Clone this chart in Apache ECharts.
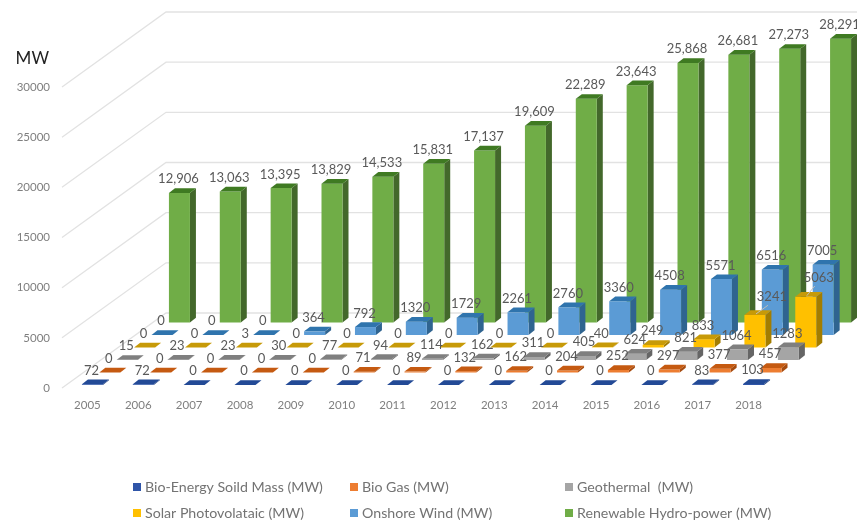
<!DOCTYPE html>
<html>
<head>
<meta charset="utf-8">
<style>html,body{margin:0;padding:0;background:#fff}#main{width:857px;height:521px}</style>
<script src="https://cdn.jsdelivr.net/npm/echarts@6/dist/echarts.min.js"></script>
</head>
<body>
<div id="main"></div>
<script>
// ---- data ----
const years = ['2005','2006','2007','2008','2009','2010','2011','2012','2013','2014','2015','2016','2017','2018'];
const yTicks = [0, 5000, 10000, 15000, 20000, 25000, 30000];
const bioMass = [72, 72, 0, 0, 0, 0, 0, 0, 0, 0, 0, 0, 83, 103];
const bioGas = [0, 0, 0, 0, 0, 71, 89, 132, 162, 204, 252, 297, 377, 457];
const geothermal = [15, 23, 23, 30, 77, 94, 114, 162, 311, 405, 624, 821, 1064, 1283];
const solar = [0, 0, 3, 0, 0, 0, 0, 0, 0, 40, 249, 833, 3241, 5063];
const wind = [0, 0, 0, 364, 792, 1320, 1729, 2261, 2760, 3360, 4508, 5571, 6516, 7005];
const hydro = [12906, 13063, 13395, 13829, 14533, 15831, 17137, 19609, 22289, 23643, 25868, 26681, 27273, 28291];

const names = ['Bio-Energy Soild Mass (MW)', 'Bio Gas (MW)', 'Geothermal  (MW)', 'Solar Photovolataic (MW)', 'Onshore Wind (MW)', 'Renewable Hydro-power (MW)'];
const rows = [bioMass, bioGas, geothermal, solar, wind, hydro];

// ---- styling ----
const faces = [
  {front:'#2f55a8', top:'#234a96', side:'#1c3b78'},
  {front:'#ed7d31', top:'#c55a11', side:'#a64b0f'},
  {front:'#a5a5a5', top:'#7f7f7f', side:'#656565'},
  {front:'#ffc000', top:'#c79a08', side:'#a37d00'},
  {front:'#5b9bd5', top:'#2f74ad', side:'#2f6490'},
  {front:'#70ad47', top:'#3f7a22', side:'#43682b'}
];
const legendPos = [[133,480],[350,480],[565,480],[133,506],[350,506],[565,506]];
const FONT = 'Lato, "Open Sans", sans-serif';
const BAR_W = 21, D_X = 6, D_Y = 4.7;      // bar face width and bar depth
const STEP_X = 17.4, STEP_Y = 12.5;        // shift between depth rows
const WALL_X = 104, WALL_Y = 75;           // depth of the floor/walls
const pushed = {'3-12':[18,-4], '3-13':[14,-5]}; // labels moved off their bar, with a leader line

function barRenderer(slot) {
  return function (params, api) {
    const i = api.value(0), v = api.value(1);
    const base = api.coord([i, 0]), tip = api.coord([i, v]);
    const dx = 5 + STEP_X * slot - BAR_W / 2, dy = -(3 + STEP_Y * slot);
    const l = base[0] + dx, r = l + BAR_W, b = base[1] + dy, t = tip[1] + dy;
    const c = faces[slot], z2 = (6 - slot) * 10;
    const poly = (pts, fill, extra) => ({type:'polygon', z2: z2 + extra, shape:{points:pts}, style:{fill: fill}});
    const children = [
      poly([[l,b],[r,b],[r,t],[l,t]], c.front, 1),
      poly([[r,b],[r+D_X,b-D_Y],[r+D_X,t-D_Y],[r,t]], c.side, 0),
      poly([[l,t],[r,t],[r+D_X,t-D_Y],[l+D_X,t-D_Y]], c.top, 2)
    ];
    const shift = pushed[slot + '-' + i] || [0, 0];
    const cx = (l + r) / 2 - 1 + shift[0], cy = t - D_Y - 9 + shift[1];
    if (pushed[slot + '-' + i]) {
      children.push({type:'line', z2: 200,
        shape:{x1: l + BAR_W * 0.55, y1: t - 1, x2: cx - 4, y2: cy + 8},
        style:{stroke:'#bdbdbd', lineWidth:1}});
    }
    children.push({type:'text', z2: 300, style:{
      text: slot === 5 ? v.toLocaleString('en-US') : String(v),
      x: cx, y: cy, align:'center', verticalAlign:'middle',
      fill:'#595959', font:'13px ' + FONT
    }});
    return {type:'group', children: children};
  };
}

function wallRenderer(params, api) {
  const y = api.coord([0, api.value(0)])[1];
  const x0 = params.coordSys.x, x1 = x0 + params.coordSys.width;
  return {type:'polyline', z2: 0,
    shape:{points:[[x0, y],[x0 + WALL_X, y - WALL_Y],[x1 + WALL_X, y - WALL_Y]]},
    style:{stroke:'#e2e2e2', lineWidth:1.3, fill:null}};
}

const series = [{
  type:'custom', name:'walls', z:2, silent:true,
  data: yTicks.map(v => [v]), encode:{y:0},
  renderItem: wallRenderer
}].concat(rows.map((vals, s) => ({
  type:'custom', name:names[s], z:2, silent:true,
  itemStyle:{color: faces[s].front},
  data: vals.map((v, i) => [i, v]), encode:{x:0, y:1},
  renderItem: barRenderer(s)
})));

const chart = echarts.init(document.getElementById('main'), null, {renderer:'canvas'});
chart.setOption({
  animation:false,
  backgroundColor:'#fff',
  grid:{left:62, top:87, width:712, height:301, containLabel:false},
  legend: names.map((n, k) => ({
    data:[n], left:legendPos[k][0], top:legendPos[k][1], padding:0,
    itemWidth:8, itemHeight:8, icon:'rect', selectedMode:false,
    textStyle:{color:'#737373', fontSize:14.2, fontFamily:FONT, padding:[0,0,0,-1]}
  })),
  xAxis:{type:'category', data:years, boundaryGap:true,
    axisLine:{show:false}, axisTick:{show:false}, splitLine:{show:false},
    axisLabel:{color:'#7f7f7f', fontSize:11.5, fontFamily:FONT, margin:11, interval:0}},
  yAxis:{type:'value', min:0, max:30000, interval:5000,
    name:'MW', nameLocation:'end', nameGap:20,
    nameTextStyle:{color:'#222', fontSize:17, fontFamily:FONT, align:'right', padding:[0,13,0,0]},
    axisLine:{show:false}, axisTick:{show:false}, splitLine:{show:false},
    axisLabel:{color:'#7f7f7f', fontSize:11.5, fontFamily:FONT, margin:12, formatter:v => String(v)}},
  series: series
});
</script>
</body>
</html>
